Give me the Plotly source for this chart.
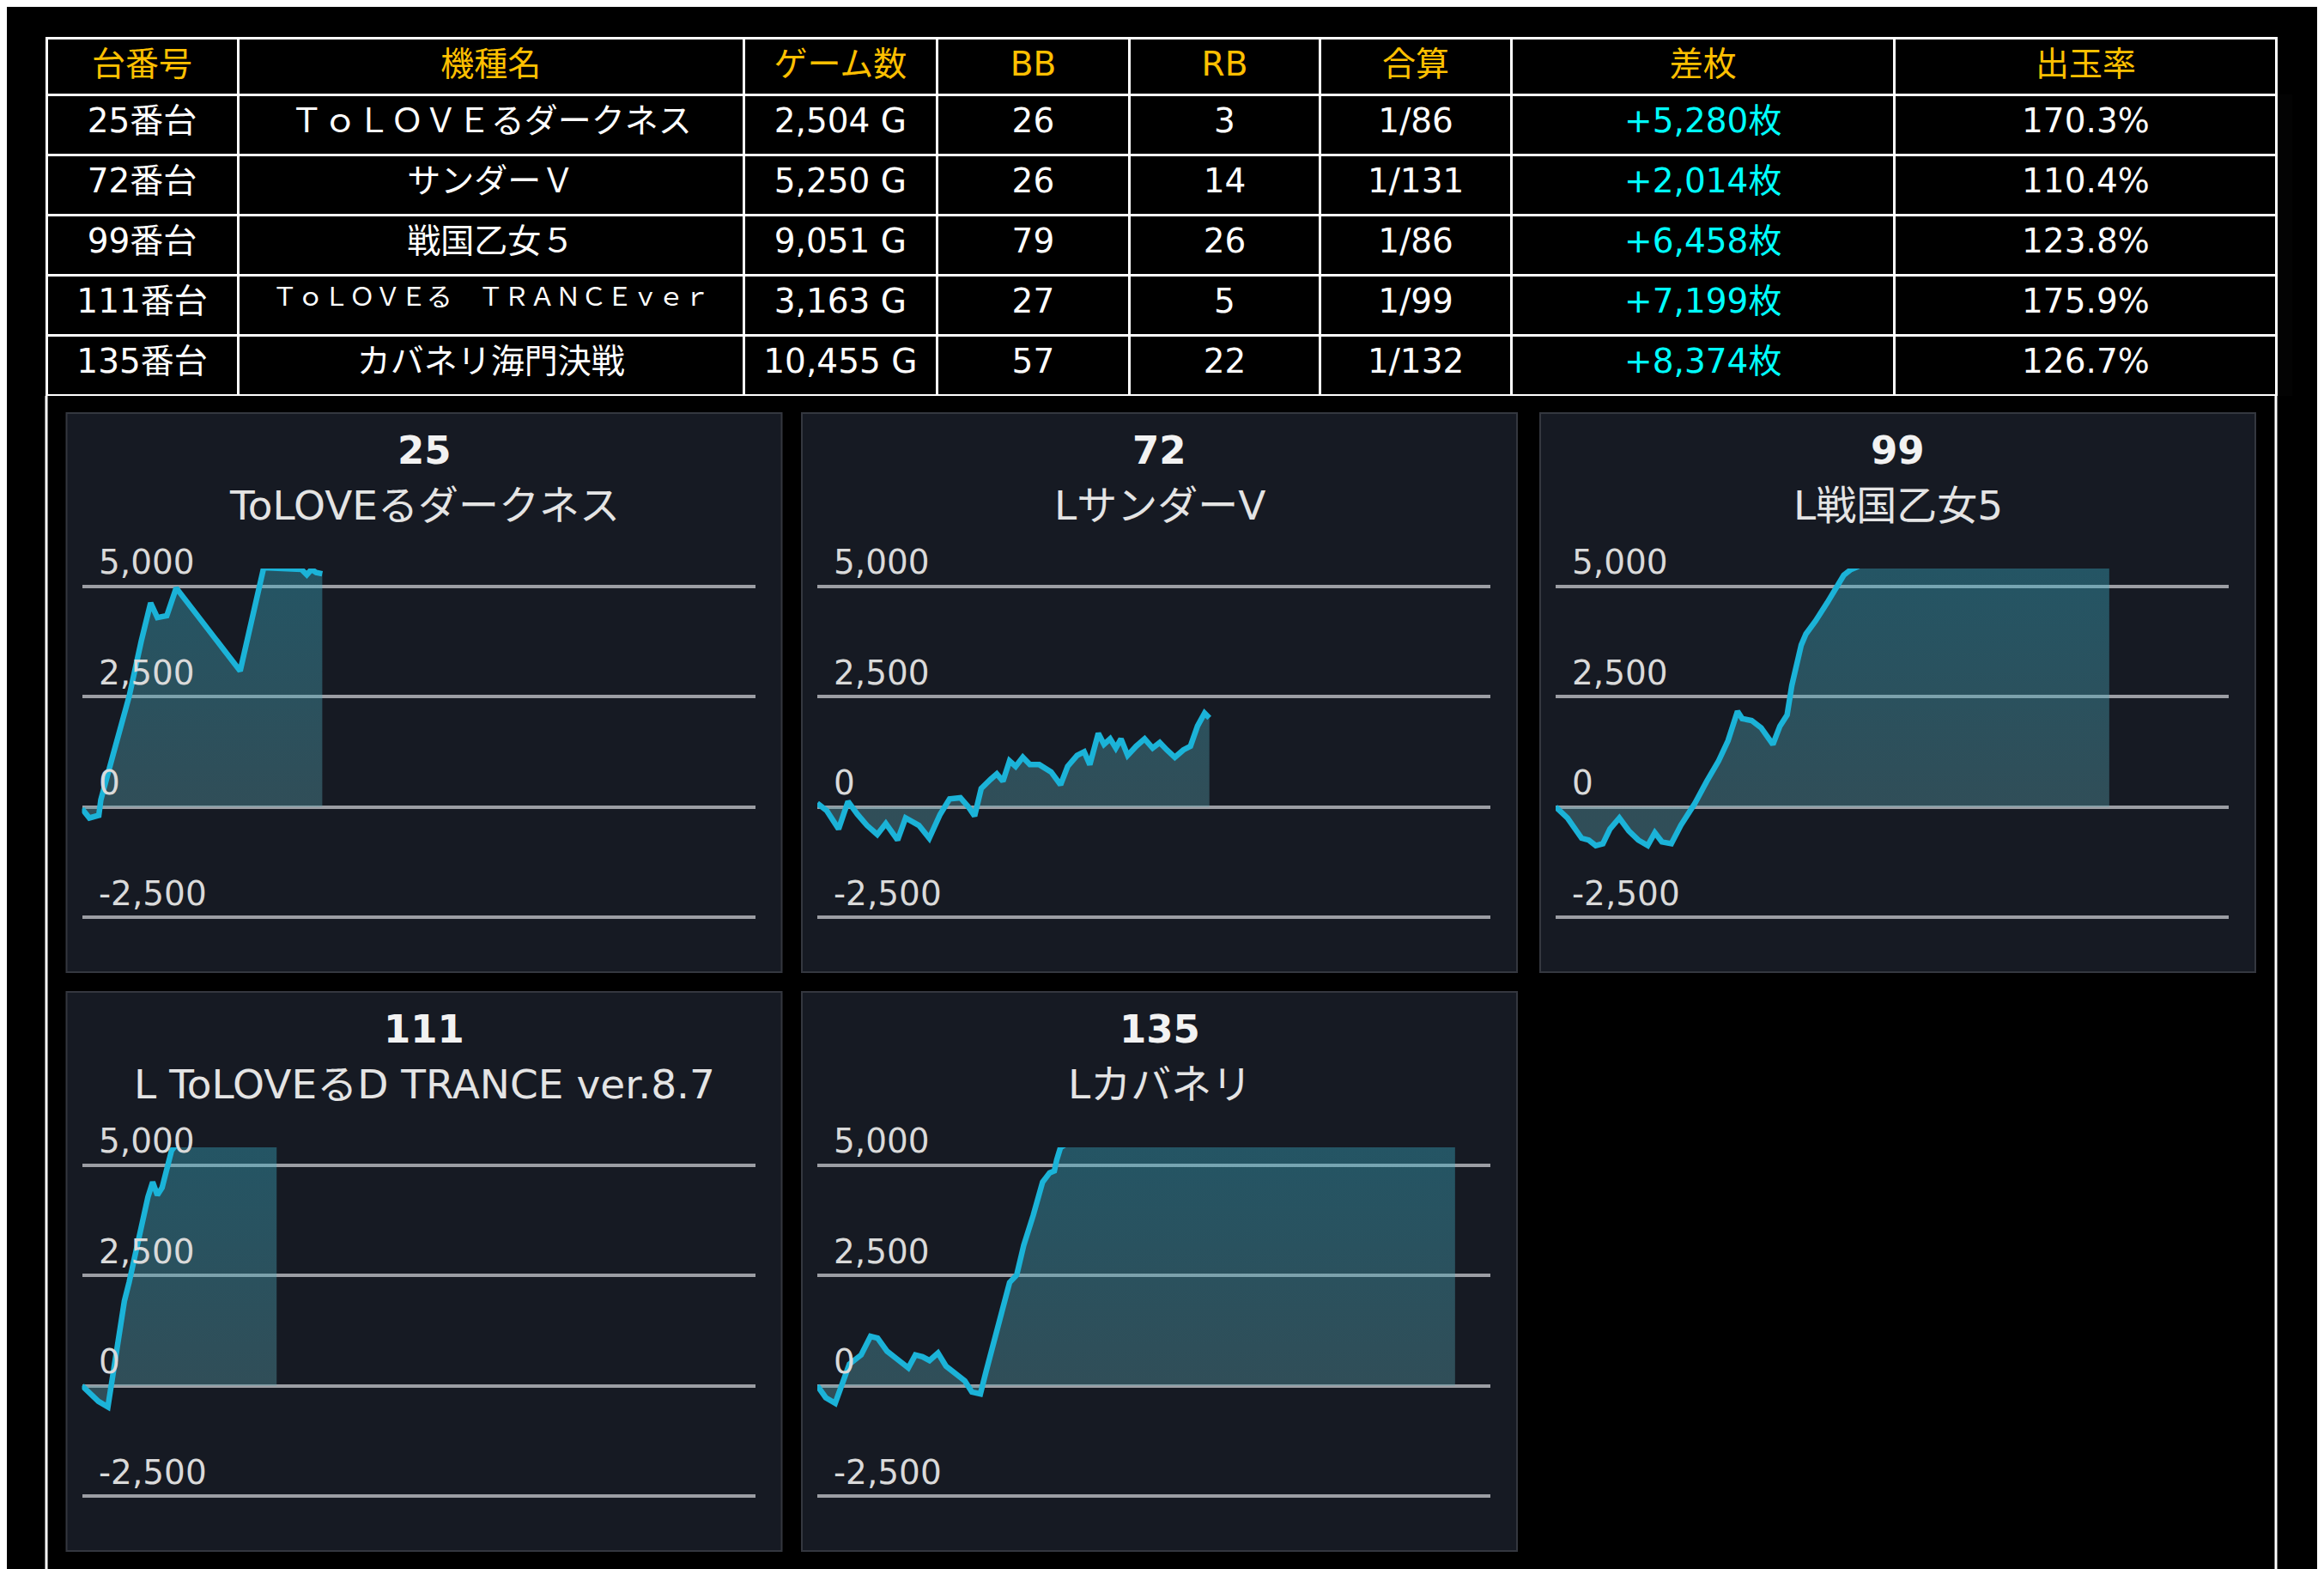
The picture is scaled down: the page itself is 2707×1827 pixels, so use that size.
import plotly.graph_objects as go

W, H = 2707, 1827
OFF = 8  # the page body adds an 8px margin around the figure
FONT = "DejaVu Sans, Noto Sans CJK JP"

# ---- table data ----
header = ["台番号", "機種名", "ゲーム数", "BB", "RB", "合算", "差枚", "出玉率"]
machine_no = ["25番台", "72番台", "99番台", "111番台", "135番台"]
machine_name = ["ＴｏＬＯＶＥるダークネス", "サンダーＶ", "戦国乙女５",
                "ＴｏＬＯＶＥる　ＴＲＡＮＣＥｖｅｒ", "カバネリ海門決戦"]
games = ["2,504 G", "5,250 G", "9,051 G", "3,163 G", "10,455 G"]
bb = [26, 26, 79, 27, 57]
rb = [3, 14, 26, 5, 22]
combined = ["1/86", "1/131", "1/86", "1/99", "1/132"]
diff = ["+5,280枚", "+2,014枚", "+6,458枚", "+7,199枚", "+8,374枚"]
rate = ["170.3%", "110.4%", "123.8%", "175.9%", "126.7%"]

# ---- graph data (x = progress along the day, y = 差枚) ----
chart_ids = ["25", "72", "99", "111", "135"]
chart_names = ["ToLOVEるダークネス", "LサンダーV", "L戦国乙女5",
               "L ToLOVEるD TRANCE ver.8.7", "Lカバネリ"]

x25 = [0, 1.1, 2.5, 2.8, 4.6, 7.0, 8.8, 10.2, 11.2, 12.6, 14.0, 23.5, 27.0,
       32.6, 33.4, 34.1, 34.8, 35.7]
y25 = [-40, -250, -190, 160, 1170, 2500, 3750, 4620, 4290, 4330, 4960, 3080,
       5420, 5380, 5260, 5380, 5310, 5280]

x72 = [0, 1.4, 3.16, 4.56, 5.96, 7.37, 8.91, 10.18, 11.93, 13.12, 15.09, 16.63,
       18.25, 19.65, 21.26, 22.46, 23.37, 24.35, 25.75, 26.67, 27.58, 28.56,
       29.47, 30.53, 31.58, 32.98, 34.74, 36.14, 37.19, 38.6, 39.65, 40.49,
       41.75, 42.6, 43.51, 44.35, 45.12, 46.11, 47.37, 48.63, 49.82, 50.88,
       51.93, 53.12, 54.39, 55.44, 56.49, 57.54, 58.25]
y72 = [83, -83, -500, 125, -167, -417, -625, -375, -750, -250, -417, -708,
       -167, 183, 208, 0, -208, 417, 625, 750, 583, 1042, 917, 1125, 958, 958,
       792, 500, 917, 1167, 1250, 958, 1667, 1417, 1542, 1333, 1542, 1167,
       1375, 1542, 1333, 1458, 1292, 1125, 1292, 1375, 1833, 2125, 2014]

x99 = [0, 1.75, 3.86, 4.91, 5.96, 7.02, 8.07, 9.47, 10.88, 12.28, 13.68, 14.74,
       15.79, 17.19, 18.6, 20.7, 22.46, 24.21, 25.61, 27.02, 27.72, 29.12,
       30.53, 32.28, 33.33, 34.39, 35.09, 35.79, 36.49, 37.19, 38.6, 40.35,
       41.75, 42.81, 43.86, 44.91, 47.37, 54.39, 61.4, 68.42, 75.44, 82.25]
y99 = [0, -250, -708, -750, -875, -833, -500, -250, -542, -750, -875, -583,
       -792, -833, -417, 83, 583, 1042, 1500, 2167, 2000, 1958, 1792, 1417,
       1833, 2083, 2750, 3167, 3667, 3917, 4208, 4625, 4958, 5250, 5375, 5442,
       5800, 6300, 6700, 6900, 6700, 6458]

x111 = [0, 2.45, 3.85, 4.55, 5.25, 6.3, 7.0, 7.7, 8.75, 9.8, 10.5, 11.2, 11.9,
        12.61, 13.31, 13.66, 16.46, 23.46, 28.92]
y111 = [0, -354, -480, 236, 993, 1919, 2340, 2845, 3603, 4276, 4613, 4318,
        4487, 4866, 5329, 5396, 5800, 6600, 7199]

x135 = [0, 1.26, 2.66, 3.71, 4.76, 6.51, 7.91, 8.96, 10.36, 11.76, 13.52, 14.57,
        15.62, 16.67, 17.93, 19.12, 20.52, 21.92, 22.97, 24.23, 25.07, 26.82,
        28.57, 29.62, 30.67, 32.07, 33.47, 34.52, 35.22, 35.57, 36.13, 44.68,
        58.68, 72.69, 86.69, 94.75]
y135 = [0, -269, -396, 67, 488, 699, 1120, 1078, 783, 615, 404, 699, 657, 572,
        741, 446, 278, 109, -143, -185, 320, 1330, 2340, 2508, 3182, 3855, 4613,
        4824, 4866, 5118, 5396, 6200, 7400, 8200, 8500, 8374]

series_x = [x25, x72, x99, x111, x135]
series_y = [y25, y72, y99, y111, y135]

tick_vals = [-2500, 0, 2500, 5000]
tick_text = ["-2,500", "0", "2,500", "5,000"]


def px_x(v):
    return (v - OFF) / W


def px_y(v):
    return 1 - (v - OFF) / H


def sized(s, size=39):
    # the trailing <br> stops the table from word-wrapping the markup
    return '<span style="font-size:%dpx">%s</span><br>' % (size, s)


fig = go.Figure()

# table (the long name in row 4 is shrunk to fit, as in the original)
name_cells = [sized(s, 30 if k == 3 else 39) for k, s in enumerate(machine_name)]
cell_cols = [[sized(str(v)) for v in col]
             for col in [machine_no, games, bb, rb, combined, diff, rate]]
cell_cols.insert(1, name_cells)

fig.add_trace(go.Table(
    domain=dict(x=[px_x(54), px_x(2652)], y=[px_y(461), px_y(44)]),
    columnwidth=[223, 589, 225, 224, 222, 223, 446, 445],
    header=dict(values=[sized(h) for h in header], height=66, align="center",
                fill_color="black", line=dict(color="white", width=3),
                font=dict(family=FONT, size=39, color="#ffc000")),
    cells=dict(values=cell_cols, height=70, align="center", fill_color="black",
               line=dict(color="white", width=3),
               font=dict(family=FONT, size=39,
                         color=["white"] * 6 + ["#00ffff", "white"])),
))

# panels
col_px = [77.5, 934, 1794]
row_px = [481, 1155]
panel_w, panel_h = 833, 651

shapes = []
annotations = []
layout_axes = {}

for i in range(5):
    r, c = divmod(i, 3)
    left, top = col_px[c], row_px[r]
    sfx = "" if i == 0 else str(i + 1)
    shapes.append(dict(type="rect", xref="paper", yref="paper",
                       x0=px_x(left), x1=px_x(left + panel_w),
                       y0=px_y(top + panel_h), y1=px_y(top),
                       fillcolor="#161a23", line=dict(color="#34373f", width=2),
                       layer="below"))
    annotations.append(dict(text="<b>" + chart_ids[i] + "</b>", xref="paper", yref="paper",
                            x=px_x(left + panel_w / 2), y=px_y(top + 43),
                            showarrow=False, xanchor="center", yanchor="middle",
                            font=dict(family=FONT, size=45, color="#f2f2f2")))
    annotations.append(dict(text=chart_names[i], xref="paper", yref="paper",
                            x=px_x(left + panel_w / 2), y=px_y(top + 107),
                            showarrow=False, xanchor="center", yanchor="middle",
                            font=dict(family=FONT, size=47, color="#e4e4e4")))
    # y tick labels sit inside the plot, just above each grid line
    for tv, tt in zip(tick_vals, tick_text):
        annotations.append(dict(text=tt, xref="x%s domain" % sfx, yref="y" + sfx,
                                x=0, y=tv, xshift=17, yshift=28,
                                showarrow=False, xanchor="left", yanchor="middle",
                                font=dict(family=FONT, size=39, color="#dadada")))

    layout_axes["xaxis" + sfx] = dict(domain=[px_x(left + 18), px_x(left + 802)],
                                      range=[0, 100], visible=False, anchor="y" + sfx,
                                      fixedrange=True)
    layout_axes["yaxis" + sfx] = dict(domain=[px_y(top + 618), px_y(top + 181)],
                                      range=[-3100, 5400], anchor="x" + sfx,
                                      tickvals=tick_vals, showticklabels=False,
                                      showgrid=True, gridcolor="#9c9ea4", gridwidth=4,
                                      zeroline=False, showline=False, ticks="",
                                      fixedrange=True)

    fig.add_trace(go.Scatter(
        x=series_x[i], y=series_y[i], mode="lines",
        line=dict(color="#1bb3d8", width=6.5),
        fill="tozeroy",
        fillgradient=dict(type="vertical", start=0, stop=5400,
                          colorscale=[[0, "rgba(89,159,171,0.39)"],
                                      [1, "rgba(58,177,202,0.39)"]]),
        xaxis="x" + sfx, yaxis="y" + sfx,
        hoverinfo="skip", showlegend=False))

# outer frame under the table
for xv in [54, 2651]:
    shapes.append(dict(type="line", xref="paper", yref="paper",
                       x0=px_x(xv), x1=px_x(xv), y0=-0.01, y1=px_y(461),
                       line=dict(color="white", width=3)))

fig.update_layout(width=W, height=H, margin=dict(l=0, r=0, t=0, b=0),
                  paper_bgcolor="black", plot_bgcolor="rgba(0,0,0,0)",
                  shapes=shapes, annotations=annotations, showlegend=False,
                  **layout_axes)

fig.write_html("out.html")
